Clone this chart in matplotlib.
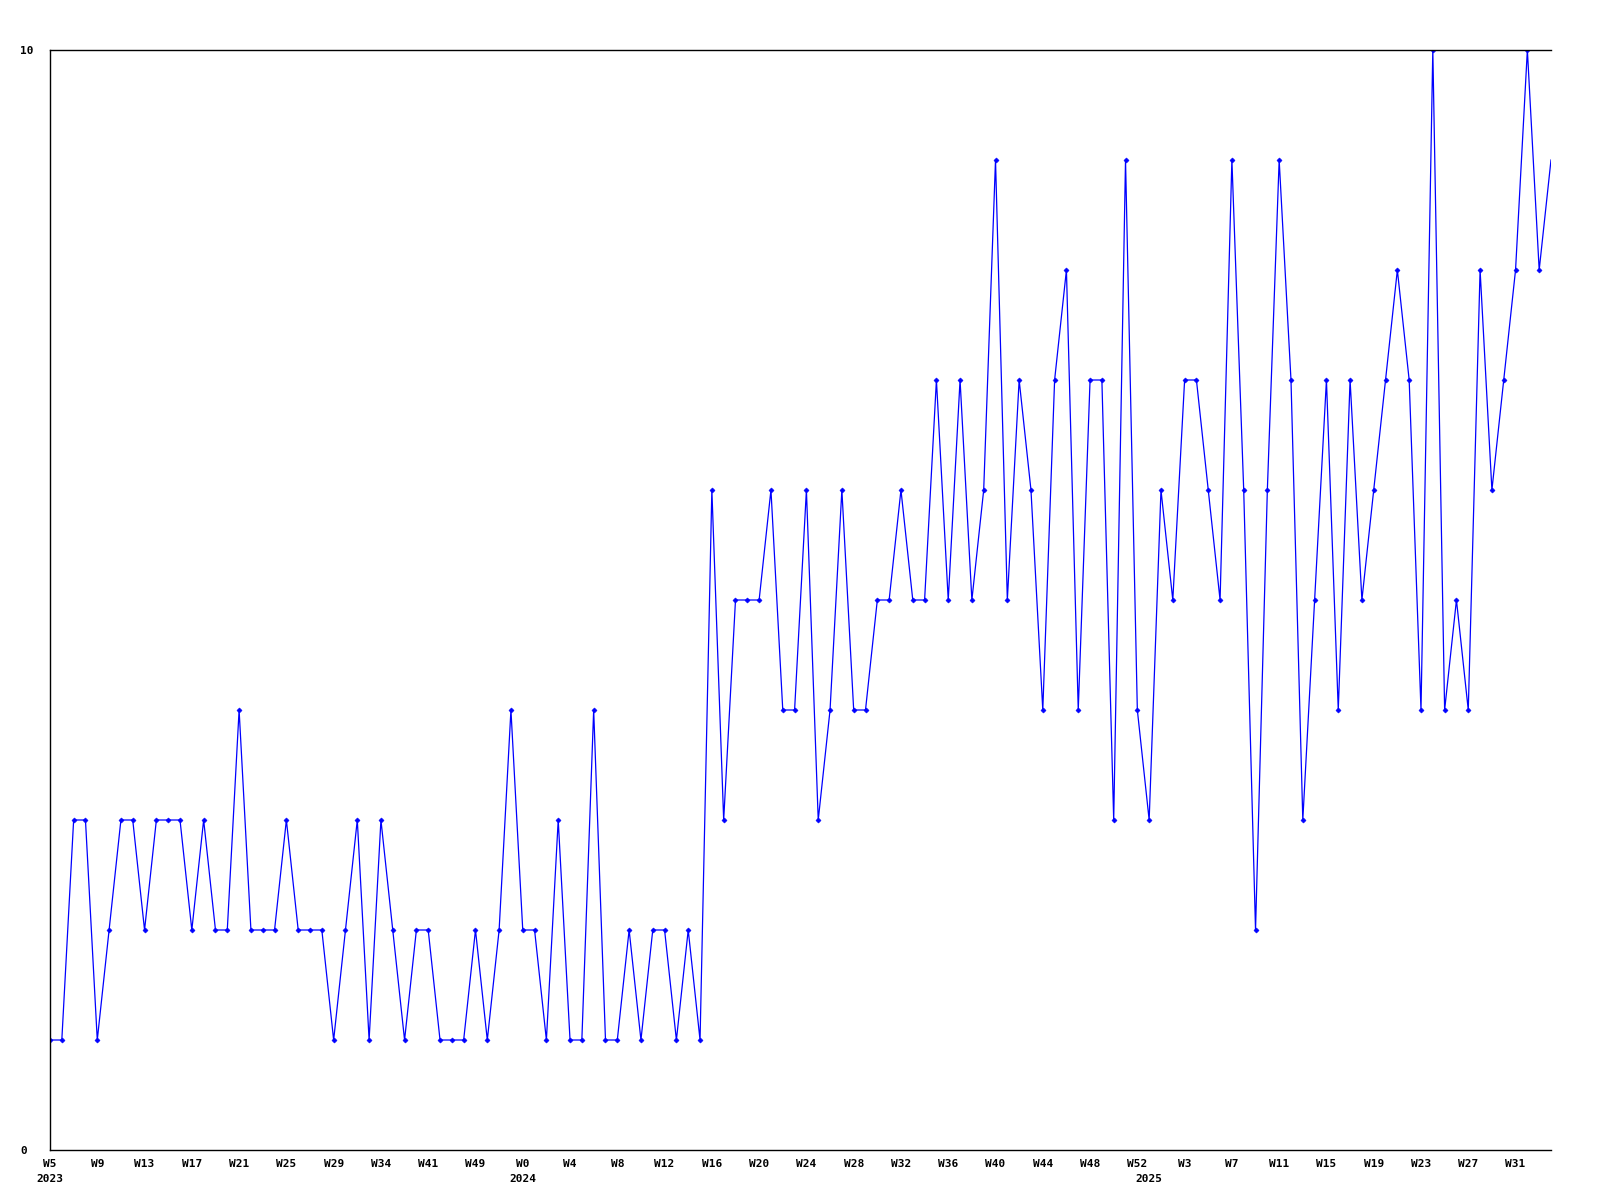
import numpy as np
import matplotlib
matplotlib.use('Agg')
import matplotlib.pyplot as plt
import matplotlib.transforms as mtransforms

# Weekly values, one per point
values = [1, 1, 3, 3, 1, 2, 3, 3, 2, 3, 3, 3, 2, 3, 2, 2, 4, 2, 2, 2,
          3, 2, 2, 2, 1, 2, 3, 1, 3, 2, 1, 2, 2, 1,
          1, 1, 2, 1, 2, 4, 2, 2, 1, 3, 1, 1, 4, 1, 1, 2, 1, 2, 2, 1, 2, 1,
          6, 3, 5, 5, 5, 6, 4, 4, 6, 3, 4, 6, 4, 4, 5, 5, 6, 5, 5, 7, 5, 7,
          5, 6, 9, 5,
          7, 6, 4, 7, 8, 4, 7, 7, 3, 9, 4, 3, 6, 5, 7, 7,
          6, 5, 9, 6, 2, 6, 9, 7, 3, 5, 7, 4, 7, 5, 6, 7, 8, 7, 4,
          10, 4, 5, 4, 8, 6, 7, 8, 10, 8, 9]

# Week tick labels, every 4th point
week_labels = ['W5', 'W9', 'W13', 'W17', 'W21', 'W25', 'W29', 'W34', 'W41', 'W49',
               'W0', 'W4', 'W8', 'W12', 'W16', 'W20', 'W24', 'W28', 'W32', 'W36',
               'W40', 'W44', 'W48', 'W52', 'W3', 'W7', 'W11', 'W15', 'W19', 'W23',
               'W27', 'W31']
tick_step = 4

# Year labels and the point index where each year starts
years = ['2023', '2024', '2025']
year_start = [0, 40, 93]

y_ticks = [0, 10]

x = np.arange(len(values))

font = {'family': 'DejaVu Sans Mono', 'weight': 'bold', 'size': 8}

fig = plt.figure(figsize=(16, 12), dpi=100)
ax = fig.add_axes([50 / 1600, 50 / 1200, 1501 / 1600, 1100 / 1200])

# last point sits on the right edge without a marker
ax.plot(x, values, color='#0000ff', lw=0.9, marker='D', ms=2.6, mew=0.4,
        markevery=slice(0, len(values) - 1))

ax.set_xlim(0, len(values) - 1)
ax.set_ylim(0, 10)

ax.spines['right'].set_visible(False)
for s in ['left', 'bottom', 'top']:
    ax.spines[s].set_linewidth(1)
    ax.spines[s].set_color('black')

ax.set_xticks(x[::tick_step][:len(week_labels)])
ax.set_xticklabels(week_labels, fontdict=font)
ax.tick_params(axis='x', length=0, pad=6.5)

ax.set_yticks(y_ticks)
ax.set_yticklabels([str(t) for t in y_ticks], fontdict=font)
ax.tick_params(axis='y', length=0, pad=21.6)
for lab in ax.get_yticklabels():
    lab.set_horizontalalignment('left')

# year row under the week labels
trans = mtransforms.blended_transform_factory(ax.transData, ax.transAxes)
for yr, i in zip(years, year_start):
    ax.text(x[i], -0.0215, yr, transform=trans, ha='center', va='top', **font)

fig.savefig('out.png', dpi=100)
